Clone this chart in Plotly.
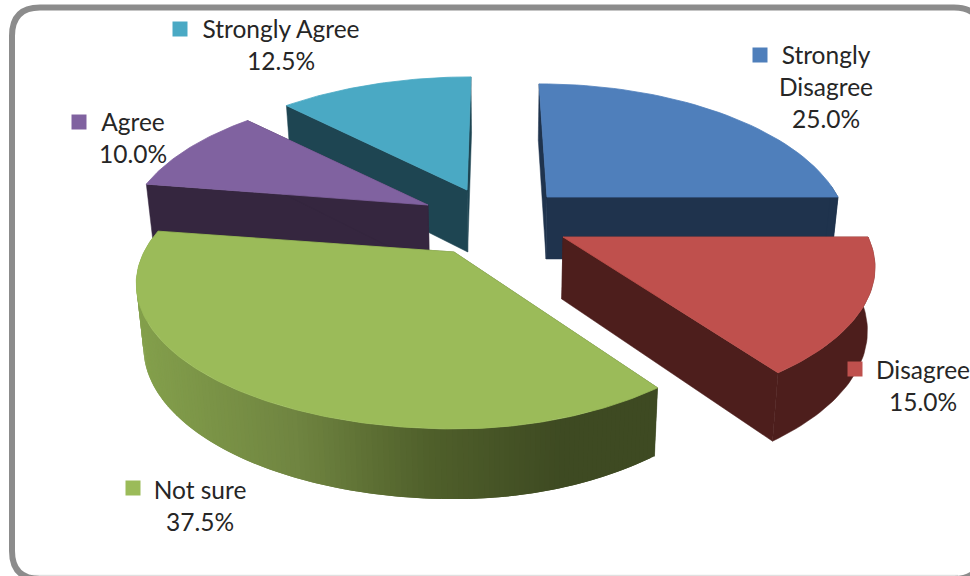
import math
import plotly.graph_objects as go

# ---- data ----
categories = ["Strongly\nDisagree", "Disagree", "Not sure", "Agree", "Strongly Agree"]
shares = [25.0, 15.0, 37.5, 10.0, 12.5]

# ---- style ----
top_colors = ["#4f7fbb", "#bf504d", "#9bbb59", "#8062a0", "#4aa9c4"]
wall_colors = ["#1f334d", "#4d1e1c", "#3d4a22", "#35263f", "#1e4552"]
tip_x = [547, 563, 454, 428, 467]
tip_y = [197, 237, 252, 205, 190]
radius_x = [291, 305, 310, 295, 300]
skew = [44, -14, 0, 0, -22]
front_shear = [0, 0, -142, 0, 0]
draw_order = [4, 3, 0, 2, 1]
label_xy = [(826, 58), (923, 373), (200, 493), (133, 125), (281, 32)]
key_xy = [(760, 55), (855, 369), (133, 488), (79, 122), (180, 29)]
green_wall_stops = [(140, (0x84, 0xa0, 0x4c)), (300, (0x70, 0x85, 0x41)),
                    (433, (0x50, 0x60, 0x2b)), (570, (0x3e, 0x4a, 0x22)), (700, (0x3e, 0x4a, 0x22))]
RY, PERSP, DEPTH, VX, CONV, LH = 138.0, 0.22, 62.0, 500.0, 0.98, 32
FONT = "Lato"
FS = 24.5

fig = go.Figure()


def top_point(i, angle):
    s, c = math.sin(angle), -math.cos(angle)
    w = 1 - PERSP * c
    shift = (skew[i] + front_shear[i] * max(0.0, s)) * (1 / w - 1)
    return (tip_x[i] + radius_x[i] * s / w + shift, tip_y[i] + RY * c / w)


def lower(p, front):
    w = 1 - PERSP * front
    return (VX + (p[0] - VX) * CONV, p[1] + DEPTH * (1 / w) ** 0.5)


def poly(pts, color, lw=0.0):
    xs = [p[0] for p in pts] + [pts[0][0]]
    ys = [p[1] for p in pts] + [pts[0][1]]
    fig.add_trace(go.Scatter(x=xs, y=ys, mode="lines", fill="toself", fillcolor=color,
                             line=dict(color=color, width=lw), hoverinfo="skip", showlegend=False))


def green_wall(x):
    for (x0, c0), (x1, c1) in zip(green_wall_stops, green_wall_stops[1:]):
        if x <= x1:
            t = max(0.0, (x - x0) / (x1 - x0))
            return "rgb(%d,%d,%d)" % tuple(a + (b - a) * t for a, b in zip(c0, c1))
    return "rgb(62,74,34)"


total = sum(shares)
edges = [0.0]
for v in shares:
    edges.append(edges[-1] + v / total * 2 * math.pi)

for i in draw_order:
    a0, a1 = edges[i], edges[i + 1]
    n = 160 if shares[i] > 30 else 40
    angs = [a0 + (a1 - a0) * k / n for k in range(n + 1)]
    arc = [top_point(i, a) for a in angs]
    low = [lower(p, -math.cos(a)) for p, a in zip(arc, angs)]
    tip = (tip_x[i], tip_y[i])
    tip_low = lower(tip, 0.0)
    # radial cut faces
    poly([tip, arc[0], low[0], tip_low], wall_colors[i], 0.5)
    poly([tip, arc[-1], low[-1], tip_low], wall_colors[i], 0.5)
    # curved outer wall
    front = [k for k in range(n + 1) if -math.cos(angs[k]) > -0.1]
    if i == 2:
        # shaded: overlapping strips painted from the light end to the dark end
        order = sorted(front[:-1], key=lambda k: arc[k][0])
        for k in order:
            j = k + 1
            m = min(k + 2, n)
            col = green_wall((arc[k][0] + arc[j][0]) / 2)
            poly([arc[k], arc[j], arc[m], low[m], low[j], low[k]], col)
    elif front:
        poly([arc[k] for k in front] + [low[k] for k in reversed(front)], wall_colors[i], 0.5)
    poly([tip] + arc, top_colors[i], 0.8)

# labels and keys
for i, name in enumerate(categories):
    lines = name.split("\n") + ["%.1f%%" % shares[i]]
    lx, ly = label_xy[i]
    fig.add_trace(go.Scatter(
        x=[lx] * len(lines), y=[ly + LH * k for k in range(len(lines))], text=lines,
        mode="text", textposition="middle center",
        textfont=dict(family=FONT, size=FS, color="#262626"),
        hoverinfo="skip", showlegend=False))
    fig.add_trace(go.Scatter(
        x=[key_xy[i][0]], y=[key_xy[i][1]], mode="markers",
        marker=dict(symbol="square", size=15, color=top_colors[i], line=dict(width=0)),
        hoverinfo="skip", showlegend=False))

frame = ("M 12 36 Q 12 7.5 40 7.5 L 954 7.5 Q 982 7.5 982 36 L 982 551 "
         "Q 982 579 954 579 L 40 579 Q 12 579 12 551 Z")
fig.update_layout(
    width=970, height=576, margin=dict(l=0, r=0, t=0, b=0),
    paper_bgcolor="white", plot_bgcolor="white", showlegend=False,
    xaxis=dict(range=[0, 970], visible=False, fixedrange=True),
    yaxis=dict(range=[576, 0], visible=False, fixedrange=True),
    shapes=[
        dict(type="line", xref="x", yref="y", x0=30, x1=958, y0=575.3, y1=575.3,
             line=dict(color="#d9d9d9", width=1), layer="below"),
        dict(type="path", xref="x", yref="y", path=frame,
             line=dict(color="#8c8c8c", width=6), layer="below"),
    ],
)
fig.write_html("out.html", config=dict(displayModeBar=False),
               post_script="document.body.style.margin='0';document.documentElement.style.overflow='hidden';")
